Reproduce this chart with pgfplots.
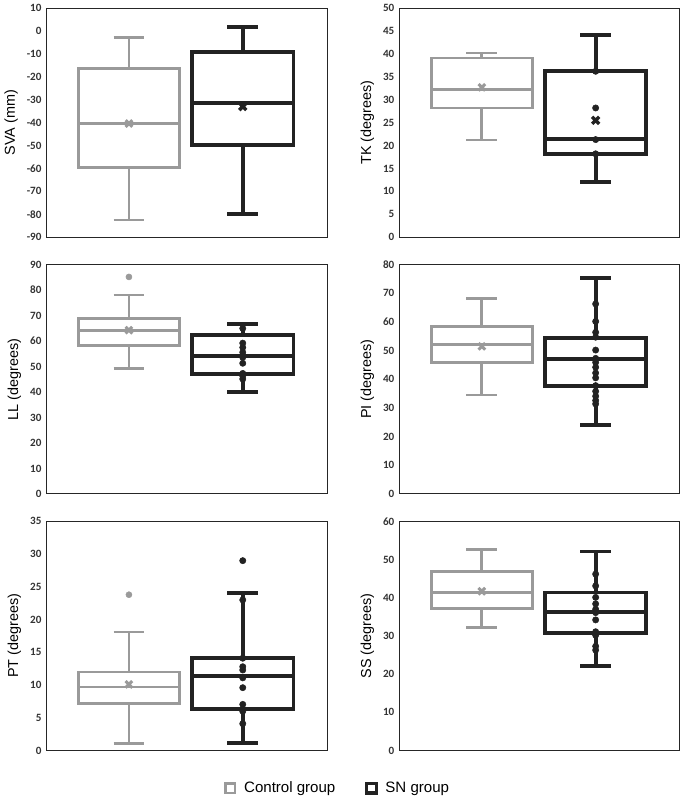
\documentclass[border=0pt]{standalone}
\usepackage{fontspec}
\setmainfont{Liberation Sans}
\newfontfamily\tickfont{Carlito}
\usepackage{pgfplots}
\pgfplotsset{compat=1.18}
\usepgfplotslibrary{groupplots,statistics}
\definecolor{ctrl}{HTML}{9A9A9A}
\definecolor{sn}{HTML}{222222}

\pgfplotsset{
  panel/.style={
    xmin=0.272, xmax=2.74, xtick=\empty,
    major tick length=0pt,
    axis line style={black!85, line width=0.7pt},
    /pgf/number format/assume math mode=true,
    yticklabel style={font=\tickfont\bfseries\fontsize{8.5}{9}\selectfont, text=black!80},
    ylabel style={font=\fontsize{11}{13}\selectfont},
  },
  ctrlbox/.style={draw=ctrl, line width=2.2pt, solid,
    boxplot prepared={draw direction=y, draw position=1, box extend=0.89, whisker extend=0.27, #1}},
  snbox/.style={draw=sn, line width=2.9pt, solid,
    boxplot prepared={draw direction=y, draw position=2, box extend=0.89, whisker extend=0.27, #1}},
  ctrlmean/.style={only marks, mark=x, mark size=3.6pt, draw=ctrl, mark options={line width=2.3pt}},
  snmean/.style={only marks, mark=x, mark size=3.8pt, draw=sn, mark options={line width=2.6pt}},
  ctrlpt/.style={only marks, mark=*, mark size=2.3pt, draw=ctrl, fill=ctrl},
  snpt/.style={only marks, mark=*, mark size=2.4pt, draw=sn, fill=sn},
}

\begin{document}
\begin{tikzpicture}
\begin{groupplot}[
  group style={group size=2 by 3, horizontal sep=55pt, vertical sep=21pt},
  width=214.5pt, height=175pt, scale only axis,
  panel,
]
% SVA
\nextgroupplot[ymin=-90, ymax=10, ytick={-90,-80,...,10}, ylabel={SVA (mm)}]
\addplot[ctrlbox={lower whisker=-82.5, lower quartile=-59.6, median=-40.3, upper quartile=-16.4, upper whisker=-3}] coordinates {};
\addplot[snbox={lower whisker=-80, lower quartile=-49.9, median=-31.6, upper quartile=-9.3, upper whisker=1.7}] coordinates {};
\addplot[ctrlmean] coordinates {(1,-40.4)};
\addplot[snmean] coordinates {(2,-33)};

% TK
\nextgroupplot[ymin=0, ymax=50, ytick={0,5,...,50}, ylabel={TK (degrees)}]
\addplot[ctrlbox={lower whisker=21.2, lower quartile=28.2, median=32.2, upper quartile=39.1, upper whisker=40.2}] coordinates {};
\addplot[snbox={lower whisker=12, lower quartile=18.1, median=21.4, upper quartile=36.2, upper whisker=44.1}] coordinates {};
\addplot[ctrlmean] coordinates {(1,32.7)};
\addplot[snmean] coordinates {(2,25.5)};
\addplot[snpt] coordinates {(2,36.2) (2,28.2) (2,21.3) (2,18.2)};

% LL
\nextgroupplot[ymin=0, ymax=90, ytick={0,10,...,90}, ylabel={LL (degrees)}]
\addplot[ctrlbox={lower whisker=49.3, lower quartile=58.2, median=64.1, upper quartile=68.8, upper whisker=78.1}] coordinates {};
\addplot[snbox={lower whisker=40.1, lower quartile=47.1, median=54.1, upper quartile=62.5, upper whisker=66.7}] coordinates {};
\addplot[ctrlmean] coordinates {(1,64.3)};
\addplot[ctrlpt] coordinates {(1,85.2)};
\addplot[snpt] coordinates {(2,65) (2,59.2) (2,57.5) (2,55.6) (2,53.6) (2,51.3) (2,47.3) (2,46.3) (2,45.1)};

% PI
\nextgroupplot[ymin=0, ymax=80, ytick={0,10,...,80}, ylabel={PI (degrees)}]
\addplot[ctrlbox={lower whisker=34.5, lower quartile=45.8, median=52, upper quartile=58.4, upper whisker=68.1}] coordinates {};
\addplot[snbox={lower whisker=24.1, lower quartile=37.7, median=47.2, upper quartile=54.5, upper whisker=75.3}] coordinates {};
\addplot[ctrlmean] coordinates {(1,51.5)};
\addplot[snpt] coordinates {(2,66.3) (2,60.2) (2,56.4) (2,54.7) (2,50.2) (2,47.3) (2,45.9) (2,44.2) (2,42.2) (2,40.5) (2,37.8) (2,35.8) (2,34.1) (2,32.6) (2,31.4)};

% PT
\nextgroupplot[ymin=0, ymax=35, ytick={0,5,...,35}, ylabel={PT (degrees)}]
\addplot[ctrlbox={lower whisker=1.1, lower quartile=7.15, median=9.7, upper quartile=12, upper whisker=18.1}] coordinates {};
\addplot[snbox={lower whisker=1.1, lower quartile=6.3, median=11.4, upper quartile=14.1, upper whisker=24.1}] coordinates {};
\addplot[ctrlmean] coordinates {(1,10.1)};
\addplot[ctrlpt] coordinates {(1,23.8)};
\addplot[snpt] coordinates {(2,29) (2,23) (2,14.1) (2,12.8) (2,12.3) (2,11.1) (2,9.6) (2,7.05) (2,6) (2,4.1)};

% SS
\nextgroupplot[ymin=0, ymax=60, ytick={0,10,...,60}, ylabel={SS (degrees)},
  legend columns=2,
  legend style={draw=none, at={(-0.215,-0.165)}, anchor=center,
    font=\fontsize{11.5}{13}\selectfont,
    /tikz/every odd column/.append style={column sep=5pt},
    /tikz/every even column/.append style={column sep=22pt}},
]
\addlegendimage{only marks, mark=square, mark size=3.6pt, draw=ctrl, line width=2pt}
\addlegendimage{only marks, mark=square, mark size=3.6pt, draw=sn, line width=2.4pt}
\addplot[ctrlbox={lower whisker=32.2, lower quartile=37.3, median=41.3, upper quartile=46.8, upper whisker=52.7}] coordinates {};
\addplot[snbox={lower whisker=22.2, lower quartile=30.7, median=36.3, upper quartile=41.35, upper whisker=52.1}] coordinates {};
\addplot[ctrlmean] coordinates {(1,41.7)};
\addplot[snpt] coordinates {(2,46.2) (2,43.1) (2,40.1) (2,38.4) (2,37) (2,36.1) (2,34.2) (2,31.1) (2,30.2) (2,27.3) (2,26.3)};
\legend{Control group, SN group}
\end{groupplot}
\end{tikzpicture}
\end{document}
